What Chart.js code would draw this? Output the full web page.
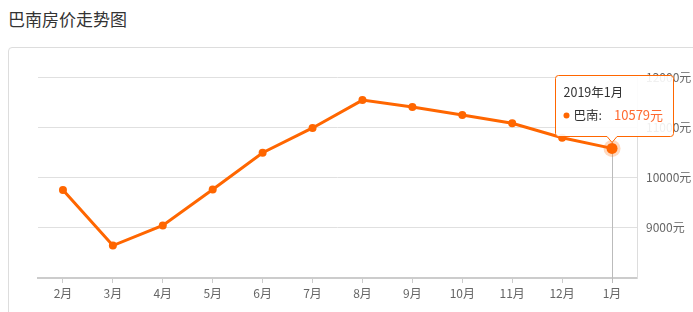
<!DOCTYPE html>
<html><head><meta charset="utf-8">
<script src="https://cdn.jsdelivr.net/npm/chart.js@4"></script>
<style>
html,body{margin:0;padding:0;background:#fff;width:693px;height:312px;overflow:hidden;}
#title{position:absolute;left:8px;top:9px;font:17px/20px "Noto Sans CJK SC",sans-serif;color:#333;white-space:nowrap;}
#panel{position:absolute;left:8px;top:47px;width:720px;height:300px;border:1px solid #ddd;border-radius:4px;box-sizing:border-box;}
#wrap{position:absolute;left:0;top:0;width:693px;height:312px;}
</style></head><body>
<div id="title">巴南房价走势图</div>
<div id="panel"></div>
<div id="wrap"><canvas id="c"></canvas></div>
<script>
const categories = ['2月','3月','4月','5月','6月','7月','8月','9月','10月','11月','12月','1月'];
const prices = [9752, 8646, 9046, 9760, 10492, 10986, 11540, 11402, 11245, 11080, 10790, 10579];
const yMin = 8000;
const yMax = 12000;
const yStep = 1000;
const seriesName = '巴南';
const tooltipTitle = '2019年1月';
const unit = '元';
const activeIndex = categories.length - 1;

const ORANGE = '#ff6600';
const FONT = '"Noto Sans CJK SC", sans-serif';

const tipPlugin = {
  id: 'tip',
  beforeDatasetsDraw(chart) {
    const ctx = chart.ctx;
    const p = chart.getDatasetMeta(0).data[activeIndex];
    ctx.save();
    ctx.strokeStyle = '#bbb';
    ctx.lineWidth = 1;
    ctx.beginPath();
    const x = Math.round(p.x) + 0.5;
    ctx.moveTo(x, p.y - 7);
    ctx.lineTo(x, chart.chartArea.bottom + 5);
    ctx.stroke();
    ctx.fillStyle = 'rgba(255,102,0,0.25)';
    ctx.beginPath();
    ctx.arc(p.x, p.y, 8.5, 0, Math.PI * 2);
    ctx.fill();
    ctx.restore();
  },
  afterDraw(chart) {
    const ctx = chart.ctx;
    const p = chart.getDatasetMeta(0).data[activeIndex];
    const w = 118, h = 61;
    const left = Math.round(p.x + 2 - w / 2) + 0.5;
    const bottom = Math.round(p.y - 12) + 0.5;
    const top = bottom - h;
    ctx.save();
    ctx.beginPath();
    const r = 3;
    ctx.moveTo(left + r, top);
    ctx.lineTo(left + w - r, top);
    ctx.quadraticCurveTo(left + w, top, left + w, top + r);
    ctx.lineTo(left + w, bottom - r);
    ctx.quadraticCurveTo(left + w, bottom, left + w - r, bottom);
    ctx.lineTo(p.x + 5, bottom);
    ctx.lineTo(p.x, bottom + 6);
    ctx.lineTo(p.x - 5, bottom);
    ctx.lineTo(left + r, bottom);
    ctx.quadraticCurveTo(left, bottom, left, bottom - r);
    ctx.lineTo(left, top + r);
    ctx.quadraticCurveTo(left, top, left + r, top);
    ctx.closePath();
    ctx.fillStyle = 'rgba(255,255,255,0.9)';
    ctx.fill();
    ctx.strokeStyle = ORANGE;
    ctx.lineWidth = 1;
    ctx.stroke();
    ctx.textBaseline = 'middle';
    ctx.textAlign = 'left';
    ctx.font = '12.5px ' + FONT;
    ctx.fillStyle = '#333';
    ctx.fillText(tooltipTitle, left + 8, top + 17);
    ctx.fillStyle = ORANGE;
    ctx.beginPath();
    ctx.arc(left + 11, top + 40, 3, 0, Math.PI * 2);
    ctx.fill();
    ctx.fillStyle = '#333';
    ctx.fillText(seriesName + ':', left + 18, top + 40);
    ctx.fillStyle = '#ff6a30';
    ctx.font = '13px ' + FONT;
    ctx.fillText(prices[activeIndex] + unit, left + 58.5, top + 40);
    ctx.restore();
  }
};

new Chart(document.getElementById('c'), {
  type: 'line',
  data: {
    labels: categories,
    datasets: [{
      label: seriesName,
      data: prices,
      borderColor: ORANGE,
      backgroundColor: ORANGE,
      borderWidth: 3,
      tension: 0,
      fill: false,
      pointRadius: ctx => ctx.dataIndex === activeIndex ? 5.5 : 4,
      pointBackgroundColor: ORANGE,
      pointBorderWidth: 0
    }]
  },
  options: {
    responsive: true,
    maintainAspectRatio: false,
    animation: false,
    events: [],
    layout: { padding: { left: 38, top: 77, right: 0, bottom: 0 } },
    plugins: { legend: { display: false }, tooltip: { enabled: false } },
    scales: {
      x: {
        type: 'category',
        offset: true,
        grid: { drawOnChartArea: false, drawTicks: true, tickLength: 5, color: '#ccc', offset: false },
        border: { color: '#ccc', width: 2 },
        ticks: { color: '#666', font: { size: 12, family: FONT }, padding: 3, maxRotation: 0, autoSkip: false },
        afterFit: s => { s.height = 34; }
      },
      y: {
        position: 'right',
        min: yMin,
        max: yMax,
        ticks: {
          stepSize: yStep,
          color: '#666',
          padding: 9,
          font: { size: 12, family: FONT },
          callback: v => v === yMin ? '' : v + unit
        },
        grid: { color: '#e0e0e0', drawTicks: false },
        border: { color: '#ddd', width: 1 },
        afterFit: s => { s.width = 56; }
      }
    }
  },
  plugins: [tipPlugin]
});
</script>
</body></html>
